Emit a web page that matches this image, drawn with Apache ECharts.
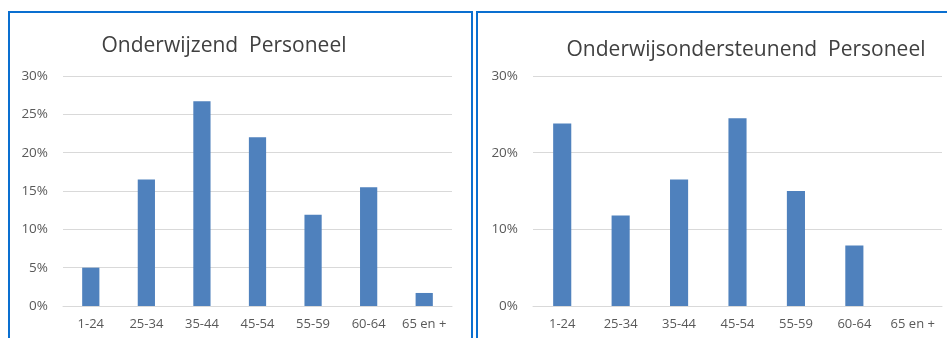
<!DOCTYPE html>
<html>
<head>
<meta charset="utf-8">
<script src="https://cdn.jsdelivr.net/npm/echarts@6/dist/echarts.min.js"></script>
<style>
html,body{margin:0;padding:0;background:#fff;}
#c{width:947px;height:338px;}
</style>
</head>
<body>
<div id="c"></div>
<script>
const categories = ['1-24', '25-34', '35-44', '45-54', '55-59', '60-64', '65 en +'];
const onderwijzend = [5.0, 16.5, 26.7, 22.0, 11.9, 15.5, 1.7];
const ondersteunend = [23.8, 11.8, 16.5, 24.5, 15.0, 7.9, 0];
const titleLeft = 'Onderwijzend  Personeel';
const titleRight = 'Onderwijsondersteunend  Personeel';

const font = '"Open Sans", "Noto Sans", sans-serif';
const barColor = '#4f81bd';
const gridColor = '#d9d9d9';
const labelColor = '#595959';

const chart = echarts.init(document.getElementById('c'), null, {renderer: 'canvas'});

function xAxis(gi) {
  return {
    type: 'category', gridIndex: gi, data: categories,
    axisLine: {lineStyle: {color: gridColor, width: 1}},
    axisTick: {show: false},
    axisLabel: {color: labelColor, fontFamily: font, fontSize: 13, margin: 12, interval: 0}
  };
}
function yAxis(gi, interval) {
  return {
    type: 'value', gridIndex: gi, min: 0, max: 30, interval: interval,
    axisLine: {show: false}, axisTick: {show: false},
    splitLine: {lineStyle: {color: gridColor, width: 1}},
    axisLabel: {color: labelColor, fontFamily: font, fontSize: 13.5, margin: 15, formatter: '{value}%'}
  };
}

chart.setOption({
  animation: false,
  title: [
    {text: titleLeft, left: 219, top: 31, textAlign: 'center',
     textStyle: {fontFamily: font, fontSize: 21, fontWeight: 'normal', color: '#404040'}},
    {text: titleRight, left: 741, top: 35, textAlign: 'center',
     textStyle: {fontFamily: font, fontSize: 21, fontWeight: 'normal', color: '#404040'}}
  ],
  grid: [
    {left: 63, right: 495, top: 76, bottom: 32},
    {left: 533, right: 5, top: 76, bottom: 32}
  ],
  xAxis: [xAxis(0), xAxis(1)],
  yAxis: [yAxis(0, 5), yAxis(1, 10)],
  series: [
    {type: 'bar', xAxisIndex: 0, yAxisIndex: 0, data: onderwijzend, barWidth: '31%',
     itemStyle: {color: barColor}},
    {type: 'bar', xAxisIndex: 1, yAxisIndex: 1, data: ondersteunend, barWidth: '31%',
     itemStyle: {color: barColor}}
  ],
  graphic: [
    {type: 'rect', shape: {x: 9, y: 12, width: 463, height: 345},
     style: {fill: 'none', stroke: '#0a6fd0', lineWidth: 2}, silent: true},
    {type: 'rect', shape: {x: 477, y: 12, width: 490, height: 345},
     style: {fill: 'none', stroke: '#0a6fd0', lineWidth: 2}, silent: true}
  ]
});
</script>
</body>
</html>
